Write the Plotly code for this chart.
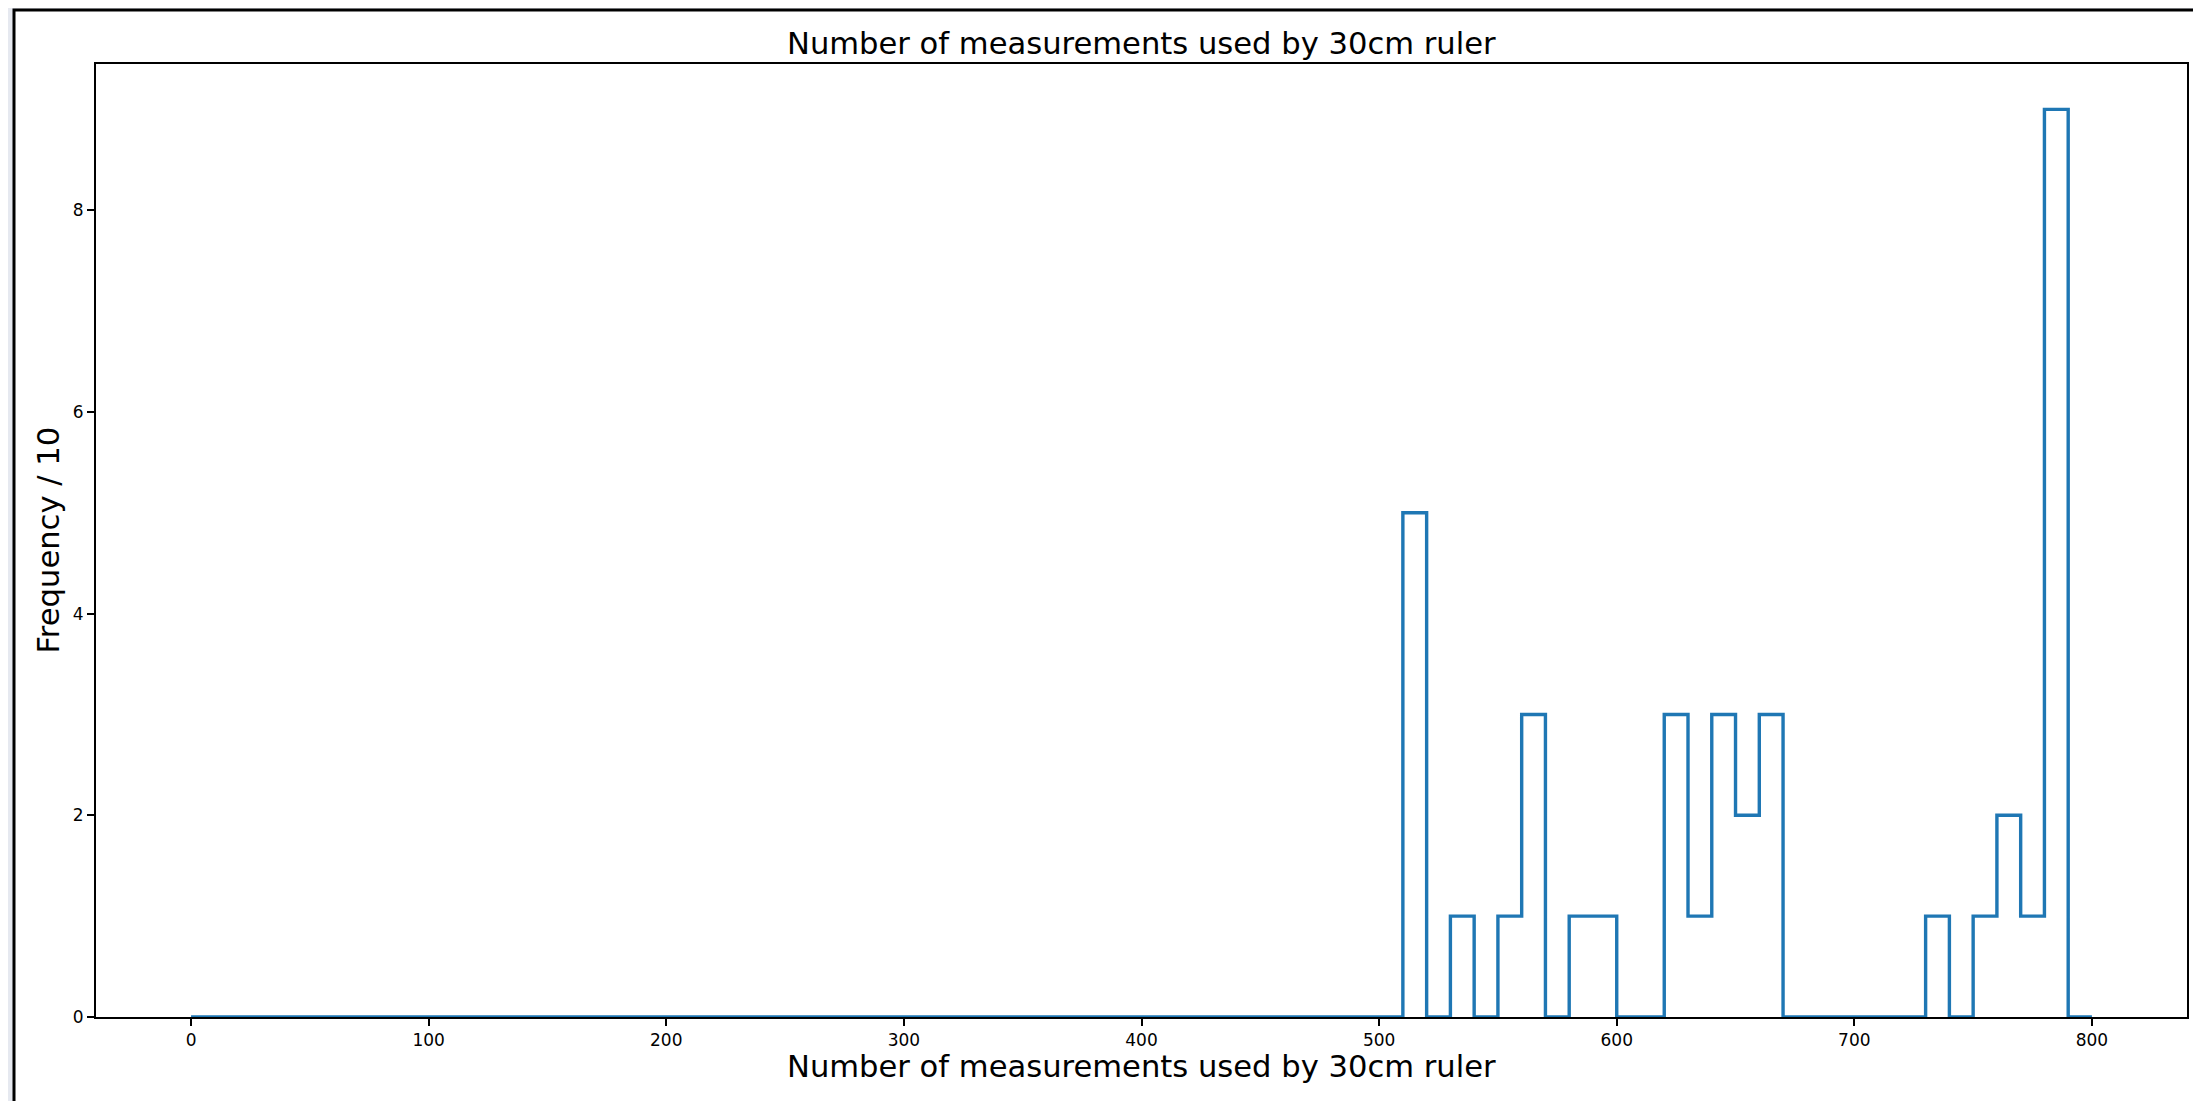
import plotly.graph_objects as go

# Histogram data: bin edges (width 10, 0..800) and counts per bin
bin_edges = list(range(0, 801, 10))
counts_by_bin_start = {
    510: 5, 530: 1, 550: 1, 560: 3, 580: 1, 590: 1,
    620: 3, 630: 1, 640: 3, 650: 2, 660: 3,
    730: 1, 750: 1, 760: 2, 770: 1, 780: 9,
}
counts = [counts_by_bin_start.get(e, 0) for e in bin_edges[:-1]]

x_ticks = [0, 100, 200, 300, 400, 500, 600, 700, 800]
y_ticks = [0, 2, 4, 6, 8]

title_text = "Number of measurements used by 30cm ruler"
x_label = "Number of measurements used by 30cm ruler"
y_label = "Frequency / 10"

# step outline (matplotlib histtype='step')
xs = [bin_edges[0]] + bin_edges
ys = [0] + counts + [0]

OFF = 8  # default page body margin
W, H = 2201 - OFF, 1101 - OFF
ML, MR, MT, MB = 96 - OFF, 14, 64 - OFF, 84
PW, PH = W - ML - MR, H - MT - MB

def px_x(p):  # page pixel -> paper x
    return (p - OFF - ML) / PW

def px_y(p):  # page pixel -> paper y
    return (H - MB - (p - OFF)) / PH

fig = go.Figure()
fig.add_trace(go.Scatter(
    x=xs, y=ys, mode="lines", line=dict(color="#1f77b4", width=3.4, shape="hv"),
    cliponaxis=False, showlegend=False, hoverinfo="skip",
))

font = "DejaVu Sans, Verdana, sans-serif"
fig.update_layout(
    width=W, height=H,
    margin=dict(l=ML, r=MR, t=MT, b=MB),
    paper_bgcolor="#e6e9f0",
    plot_bgcolor="white",
    font=dict(family=font, color="black"),
    shapes=[dict(type="rect", xref="paper", yref="paper",
                 x0=px_x(14), x1=px_x(2230), y0=px_y(1130), y1=px_y(10),
                 fillcolor="white", line=dict(color="black", width=3), layer="below")],
    annotations=[
        dict(text=title_text, xref="paper", yref="paper", x=0.5, y=px_y(43),
             xanchor="center", yanchor="middle", showarrow=False,
             font=dict(size=30.6, family=font, color="black")),
        dict(text=x_label, xref="paper", yref="paper", x=0.5, y=px_y(1066),
             xanchor="center", yanchor="middle", showarrow=False,
             font=dict(size=30.6, family=font, color="black")),
        dict(text=y_label, xref="paper", yref="paper", x=px_x(48), y=0.5,
             xanchor="center", yanchor="middle", showarrow=False, textangle=-90,
             font=dict(size=30.6, family=font, color="black")),
    ],
)
fig.update_xaxes(
    range=[-40, 840], tickmode="array", tickvals=x_ticks, ticktext=[str(v) for v in x_ticks],
    showgrid=False, zeroline=False, showline=True, mirror=True, linecolor="black", linewidth=2,
    ticks="outside", ticklen=7, tickwidth=1.5, tickcolor="black",
    tickfont=dict(size=17, family=font, color="black"), layer="below traces",
)
fig.update_yaxes(
    range=[0, 9.45], tickmode="array", tickvals=y_ticks, ticktext=[str(v) for v in y_ticks],
    showgrid=False, zeroline=False, showline=True, mirror=True, linecolor="black", linewidth=2,
    ticks="outside", ticklen=7, tickwidth=1.5, tickcolor="black",
    tickfont=dict(size=17, family=font, color="black"), layer="below traces",
)

fig.write_html("out.html")
